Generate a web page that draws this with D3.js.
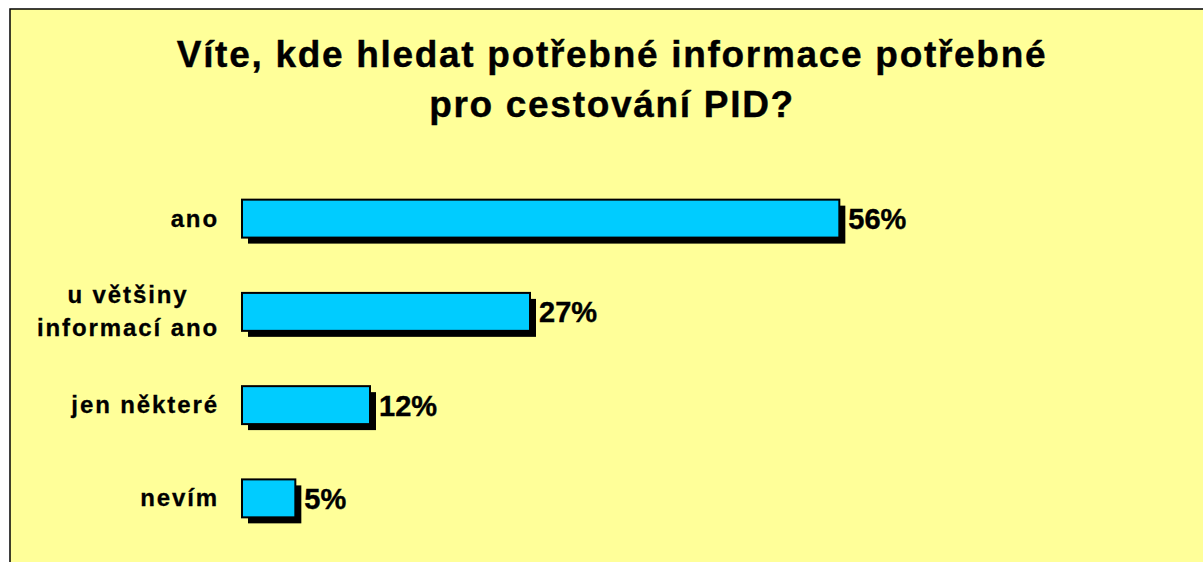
<!DOCTYPE html>
<html>
<head>
<meta charset="utf-8">
<script src="https://cdn.jsdelivr.net/npm/d3@7"></script>
<style>
  body { margin: 0; background: #ffffff; }
  svg text { font-family: Arial, "Liberation Sans", sans-serif; font-weight: bold; fill: #000; }
</style>
</head>
<body>
<svg id="chart" width="1203" height="562"></svg>
<script>
// data
var titleLines = ["Víte, kde hledat potřebné informace potřebné", "pro cestování PID?"];
var categories = [["ano"], ["u většiny", "informací ano"], ["jen některé"], ["nevím"]];
var values = [56, 27, 12, 5];
var valueLabels = ["56%", "27%", "12%", "5%"];

var svg = d3.select("#chart");

// yellow frame (open at right and bottom, like the cropped original)
svg.append("rect")
    .attr("x", 10).attr("y", 9)
    .attr("width", 1220).attr("height", 580)
    .style("fill", "#ffff99")
    .style("stroke", "#000")
    .style("stroke-width", 1.5);

// title
svg.selectAll(".title").data(titleLines).enter().append("text")
    .attr("class", "title")
    .attr("x", 612)
    .attr("y", function (d, i) { return 67 + i * 50; })
    .attr("text-anchor", "middle")
    .style("font-size", "37px")
    .style("letter-spacing", "1.7px")
    .style("stroke", "#000")
    .style("stroke-width", 0.4)
    .text(function (d) { return d; });

var x = d3.scaleLinear().domain([0, 60]).range([242, 882]);
var y = d3.scaleBand()
    .domain(d3.range(values.length))
    .range([172, 545])
    .paddingInner(0.593)
    .paddingOuter(0.2965);

var shadow = 6;

// shadows
svg.selectAll(".shadow").data(values).enter().append("rect")
    .attr("class", "shadow")
    .attr("x", x(0) + shadow)
    .attr("y", function (d, i) { return y(i) + shadow; })
    .attr("width", function (d) { return x(d) - x(0); })
    .attr("height", y.bandwidth())
    .style("fill", "#000");

// bars
svg.selectAll(".bar").data(values).enter().append("rect")
    .attr("class", "bar")
    .attr("x", x(0))
    .attr("y", function (d, i) { return y(i); })
    .attr("width", function (d) { return x(d) - x(0); })
    .attr("height", y.bandwidth())
    .style("fill", "#00ccff")
    .style("stroke", "#000")
    .style("stroke-width", 2);

// value labels
svg.selectAll(".val").data(values).enter().append("text")
    .attr("class", "val")
    .attr("x", function (d) { return x(d) + shadow + 3; })
    .attr("y", function (d, i) { return y(i) + y.bandwidth() / 2 + 10.5; })
    .style("font-size", "29px")
    .style("stroke", "#000")
    .style("stroke-width", 0.4)
    .text(function (d, i) { return valueLabels[i]; });

// category labels, centred lines in a block that ends at x=219
var lineH = 33;
categories.forEach(function (lines, i) {
    var cy = y(i) + y.bandwidth() / 2;
    var g = svg.append("text")
        .attr("class", "cat")
        .style("font-size", "24px")
        .style("letter-spacing", "1.9px")
        .style("stroke", "#000")
        .style("stroke-width", 0.3);
    lines.forEach(function (t, j) {
        g.append("tspan")
            .attr("y", cy + (j - (lines.length - 1) / 2) * lineH + 8)
            .text(t);
    });
    // measure widest line, then centre each line inside that block
    var widths = [];
    g.selectAll("tspan").each(function () { widths.push(this.getComputedTextLength()); });
    var blockW = d3.max(widths);
    g.selectAll("tspan")
        .attr("x", 219 - blockW / 2)
        .attr("text-anchor", "middle");
});
</script>
</body>
</html>
